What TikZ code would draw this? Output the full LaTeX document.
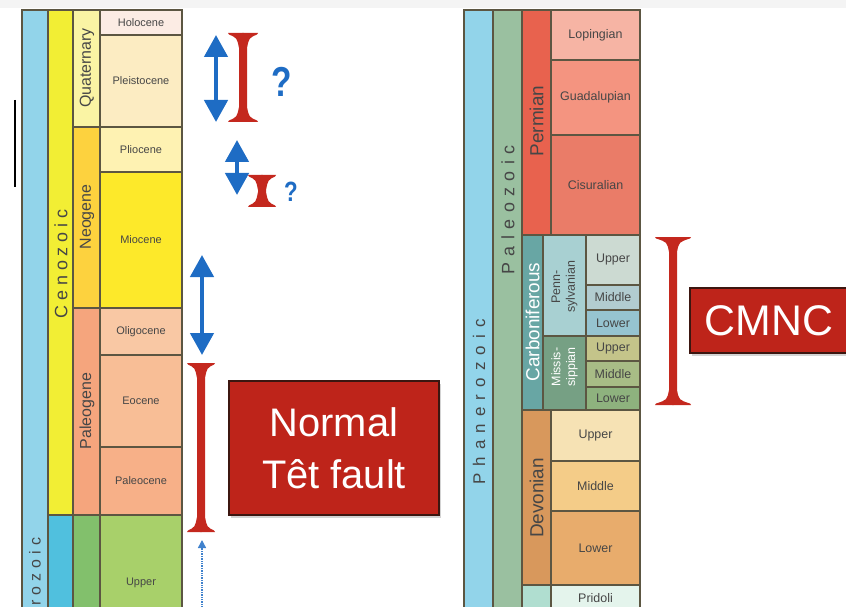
\documentclass[tikz,border=0pt]{standalone}
\usepackage{fontspec}
\setmainfont{Liberation Sans}
\usetikzlibrary{arrows.meta,shadows}

\definecolor{gridline}{RGB}{92,86,66}
\definecolor{labelgray}{RGB}{70,70,70}
\definecolor{topband}{RGB}{244,244,244}
\definecolor{faultred}{RGB}{196,40,30}
\definecolor{boxred}{RGB}{190,36,26}
\definecolor{boxedge}{RGB}{60,22,16}
\definecolor{faultblue}{RGB}{30,108,196}
% cronostratigrafia
\definecolor{eonblue}{RGB}{146,212,234}
\definecolor{cenozoic}{RGB}{242,238,52}
\definecolor{mesozoic}{RGB}{80,192,222}
\definecolor{quaternary}{RGB}{250,244,164}
\definecolor{neogene}{RGB}{253,210,62}
\definecolor{paleogene}{RGB}{245,165,125}
\definecolor{holocene}{RGB}{252,236,228}
\definecolor{pleistocene}{RGB}{252,236,194}
\definecolor{pliocene}{RGB}{254,242,178}
\definecolor{miocene}{RGB}{253,233,42}
\definecolor{oligocene}{RGB}{249,200,164}
\definecolor{eocene}{RGB}{248,190,150}
\definecolor{paleocene}{RGB}{247,176,136}
\definecolor{cretaceous}{RGB}{130,192,108}
\definecolor{uppercret}{RGB}{168,208,106}
\definecolor{paleozoic}{RGB}{154,192,160}
\definecolor{permian}{RGB}{232,98,78}
\definecolor{lopingian}{RGB}{246,180,164}
\definecolor{guadalupian}{RGB}{244,148,128}
\definecolor{cisuralian}{RGB}{234,124,104}
\definecolor{carbon}{RGB}{104,166,164}
\definecolor{penn}{RGB}{168,208,210}
\definecolor{pennup}{RGB}{204,218,210}
\definecolor{pennmid}{RGB}{178,204,208}
\definecolor{pennlow}{RGB}{150,196,208}
\definecolor{miss}{RGB}{118,160,132}
\definecolor{missup}{RGB}{196,196,138}
\definecolor{missmid}{RGB}{168,188,134}
\definecolor{misslow}{RGB}{142,178,126}
\definecolor{devonian}{RGB}{216,152,92}
\definecolor{devup}{RGB}{246,226,180}
\definecolor{devmid}{RGB}{244,204,136}
\definecolor{devlow}{RGB}{232,172,108}
\definecolor{silurian}{RGB}{176,222,208}
\definecolor{pridoli}{RGB}{228,244,236}

\tikzset{
  unit/.style={draw=gridline, line width=1.1bp},
  epoch/.style={text=labelgray, font=\fontsize{11}{13}\selectfont},
  bigepoch/.style={text=labelgray, font=\fontsize{12.5}{14}\selectfont},
  period/.style={rotate=90, text=labelgray, font=\fontsize{16}{18}\selectfont},
  bigperiod/.style={rotate=90, text=labelgray, font=\fontsize{19}{21}\selectfont},
  bluearrow/.style={faultblue, line width=4.5bp, {Triangle[width=23bp,length=22bp]}-{Triangle[width=23bp,length=22bp]}},
  hintarrow/.style={faultblue!85, line width=1.4bp, densely dotted, -{Triangle[width=8bp,length=8bp]}},
  faultbox/.style={fill=boxred, draw=boxedge, line width=1.2bp, text=white, align=center,
    drop shadow={opacity=.35, shadow xshift=2pt, shadow yshift=-3pt}},
}

% barra a clessidra: x, alto, basso, semilarghezza (due meta speculari)
\newcommand{\timebar}[4]{%
  \foreach \side in {1,-1}
    \fill[faultred, shift={(#1,0)}, xscale=\side] (-0.6,#2) -- (#4,#2) -- ({#4-1},{#2+1.5})
      .. controls (6,{#2+5}) .. (4,{#2+15}) -- (4,{#3-15})
      .. controls (6,{#3-5}) .. ({#4-1},{#3-1.5}) -- (#4,#3) -- (-0.6,#3) -- cycle;}

\begin{document}
\begin{tikzpicture}[x=1bp, y=-1bp]
  \useasboundingbox (0,0) rectangle (846,607);
  \clip (0,0) rectangle (846,607);
  \fill[topband] (0,0) rectangle (846,8);
  \draw[line width=1.6bp] (15,100) -- (15,187); % cursore

  % scala sinistra
  \draw[unit, fill=eonblue] (22,10) rectangle (48,620);
  \draw[unit, fill=cenozoic] (48,10) rectangle (73,515);
  \draw[unit, fill=mesozoic] (48,515) rectangle (73,620);
  \draw[unit, fill=quaternary] (73,10) rectangle (100,127);
  \draw[unit, fill=neogene] (73,127) rectangle (100,308);
  \draw[unit, fill=paleogene] (73,308) rectangle (100,515);
  \draw[unit, fill=cretaceous] (73,515) rectangle (100,620);
  \draw[unit, fill=holocene] (100,10) rectangle (182,35);
  \draw[unit, fill=pleistocene] (100,35) rectangle (182,127);
  \draw[unit, fill=pliocene] (100,127) rectangle (182,172);
  \draw[unit, fill=miocene] (100,172) rectangle (182,308);
  \draw[unit, fill=oligocene] (100,308) rectangle (182,355);
  \draw[unit, fill=eocene] (100,355) rectangle (182,447);
  \draw[unit, fill=paleocene] (100,447) rectangle (182,515);
  \draw[unit, fill=uppercret] (100,515) rectangle (182,620);

  \node[rotate=90, anchor=east, text=labelgray, font={\fontsize{16}{18}\selectfont\addfontfeature{LetterSpace=32}}]
    (phanleft) at (35,534) {Phanerozoic};
  \node[rotate=90, text=labelgray, font={\fontsize{18}{20}\selectfont\addfontfeature{LetterSpace=27}}]
    (ceno) at (61,264) {Cenozoic};
  \node[period] (quat) at (87,68) {Quaternary};
  \node[period] (neog) at (87,217) {Neogene};
  \node[period] (paleog) at (87,411) {Paleogene};
  \node[epoch] (holo) at (141,22.5) {Holocene};
  \node[epoch] (pleist) at (141,81) {Pleistocene};
  \node[epoch] (plio) at (141,149.5) {Pliocene};
  \node[epoch] (mio) at (141,240) {Miocene};
  \node[epoch] (oligo) at (141,331.5) {Oligocene};
  \node[epoch] (eo) at (141,401) {Eocene};
  \node[epoch] (paleoc) at (141,481) {Paleocene};
  \node[epoch] (uppercr) at (141,583) {Upper};

  % scala destra
  \draw[unit, fill=eonblue] (464,10) rectangle (493,620);
  \draw[unit, fill=paleozoic] (493,10) rectangle (522,620);
  \draw[unit, fill=permian] (522,10) rectangle (551,235);
  \draw[unit, fill=lopingian] (551,10) rectangle (640,60);
  \draw[unit, fill=guadalupian] (551,60) rectangle (640,135);
  \draw[unit, fill=cisuralian] (551,135) rectangle (640,235);
  \draw[unit, fill=carbon] (522,235) rectangle (543,410);
  \draw[unit, fill=penn] (543,235) rectangle (586,336);
  \draw[unit, fill=pennup] (586,235) rectangle (640,285);
  \draw[unit, fill=pennmid] (586,285) rectangle (640,310);
  \draw[unit, fill=pennlow] (586,310) rectangle (640,336);
  \draw[unit, fill=miss] (543,336) rectangle (586,410);
  \draw[unit, fill=missup] (586,336) rectangle (640,361);
  \draw[unit, fill=missmid] (586,361) rectangle (640,387);
  \draw[unit, fill=misslow] (586,387) rectangle (640,410);
  \draw[unit, fill=devonian] (522,410) rectangle (551,585);
  \draw[unit, fill=devup] (551,410) rectangle (640,461);
  \draw[unit, fill=devmid] (551,461) rectangle (640,511);
  \draw[unit, fill=devlow] (551,511) rectangle (640,585);
  \draw[unit, fill=silurian] (522,585) rectangle (551,620);
  \draw[unit, fill=pridoli] (551,585) rectangle (640,620);

  \node[rotate=90, text=labelgray, font={\fontsize{17}{19}\selectfont\addfontfeature{LetterSpace=42}}]
    (phanright) at (479,402) {Phanerozoic};
  \node[rotate=90, text=labelgray, font={\fontsize{18}{20}\selectfont\addfontfeature{LetterSpace=36}}]
    (paleoz) at (508,210) {Paleozoic};
  \node[bigperiod] (perm) at (536.5,121) {Permian};
  \node[bigperiod, text=white] (carb) at (532.5,322) {Carboniferous};
  \node[bigperiod] (devo) at (536.5,498) {Devonian};
  \node[rotate=90, text=labelgray, align=center, font=\fontsize{12.5}{15}\selectfont] (pennlbl) at (564.5,287) {Penn-\\sylvanian};
  \node[rotate=90, text=white, align=center, font=\fontsize{12.5}{15}\selectfont] (misslbl) at (564.5,367) {Missis-\\sippian};
  \node[bigepoch] (loping) at (595.5,35) {Lopingian};
  \node[bigepoch] (guada) at (595.5,97.5) {Guadalupian};
  \node[bigepoch] (cisur) at (595.5,185) {Cisuralian};
  \node[bigepoch] (pup) at (613,260) {Upper};
  \node[bigepoch] (pmid) at (613,297.5) {Middle};
  \node[bigepoch] (plow) at (613,323) {Lower};
  \node[bigepoch] (mup) at (613,348.5) {Upper};
  \node[bigepoch] (mmid) at (613,374) {Middle};
  \node[bigepoch] (mlow) at (613,398.5) {Lower};
  \node[bigepoch] (dup) at (595.5,435.5) {Upper};
  \node[bigepoch] (dmid) at (595.5,486) {Middle};
  \node[bigepoch] (dlow) at (595.5,548) {Lower};
  \node[bigepoch] (prid) at (595.5,598) {Pridoli};

  % frecce di attivita
  \coordinate (a1top) at (216,35);  \coordinate (a1bot) at (216,122);
  \coordinate (a2top) at (237,140); \coordinate (a2bot) at (237,195);
  \coordinate (a3top) at (202,255); \coordinate (a3bot) at (202,355);
  \coordinate (hintfoot) at (202,610); \coordinate (hinttip) at (202,540);
  \draw[bluearrow] (a1top) -- (a1bot);
  \draw[bluearrow] (a2top) -- (a2bot);
  \draw[bluearrow] (a3top) -- (a3bot);
  \draw[hintarrow] (hintfoot) -- (hinttip);

  \timebar{243}{33}{122}{15}
  \timebar{262}{175}{207}{14}
  \timebar{201}{363}{532}{14}
  \timebar{673}{237}{405}{18}

  \node[text=faultblue, font=\bfseries\fontsize{42}{42}\selectfont, xscale=.8] (q1) at (282,82) {?};
  \node[text=faultblue, font=\bfseries\fontsize{28}{28}\selectfont, xscale=.8] (q2) at (291,192) {?};

  \node[faultbox, minimum width=210bp, minimum height=134bp, font=\fontsize{40}{52}\selectfont]
    (tet) at (334,448) {Normal\\Têt fault};
  \node[faultbox, minimum width=158bp, minimum height=65bp, font=\fontsize{43}{43}\selectfont]
    (cmnc) at (769,320.5) {CMNC};
\end{tikzpicture}
\end{document}
